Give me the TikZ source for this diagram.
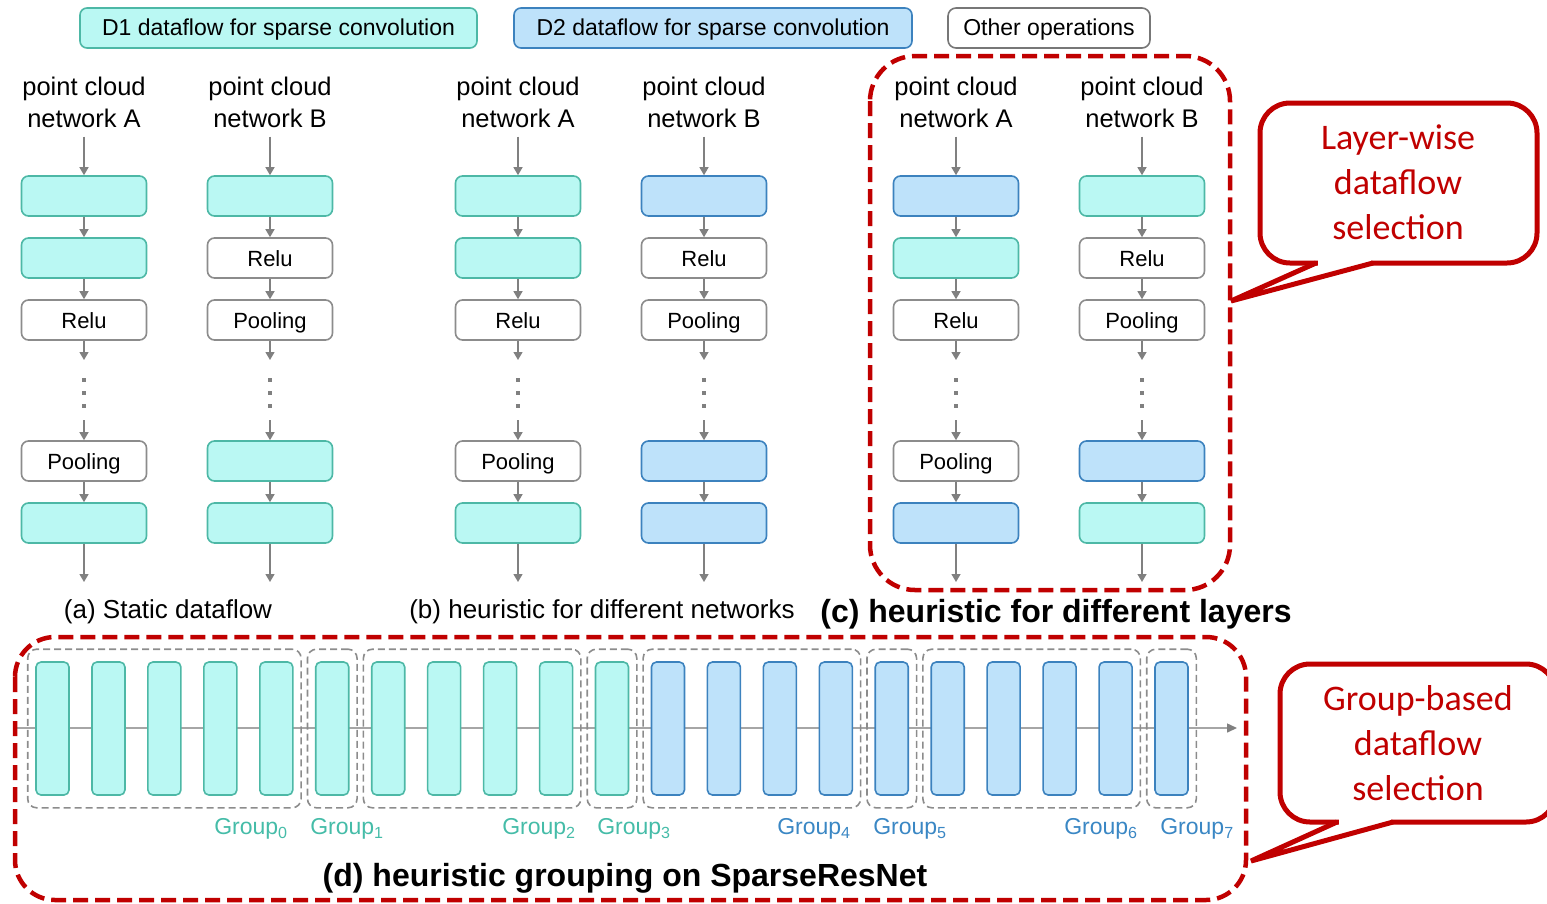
\documentclass[tikz,border=0pt]{standalone}
\usepackage{fontspec}
\setmainfont{Liberation Sans}
\newfontfamily\calfont{Carlito}
\usetikzlibrary{arrows.meta,fit}
\definecolor{cyf}{HTML}{BAF8F3}
\definecolor{cyd}{HTML}{4DB8A6}
\definecolor{blf}{HTML}{BEE2FA}
\definecolor{bld}{HTML}{3C82BE}
\definecolor{opd}{HTML}{8C8C8C}
\definecolor{arrg}{HTML}{808080}
\definecolor{myred}{HTML}{C00000}
\definecolor{cyt}{HTML}{45BCA8}
\definecolor{blt}{HTML}{3A87C4}
\begin{document}
\begin{tikzpicture}[x=1pt,y=-1pt,
  lbox/.style={draw, rounded corners=7pt, minimum width=125pt, minimum height=40pt, inner sep=0pt, line width=1.6pt},
  d1box/.style={lbox, fill=cyf, draw=cyd},
  d2box/.style={lbox, fill=blf, draw=bld},
  opbox/.style={lbox, fill=white, draw=opd, font=\fontsize{22}{26}\selectfont, text height=20pt, text depth=4pt},
  cy/.style={d1box, node contents={}},
  bl/.style={d2box, node contents={}},
  relu/.style={opbox, node contents=Relu},
  pool/.style={opbox, node contents=Pooling},
  legbox/.style={draw, rounded corners=8pt, minimum height=40pt, inner sep=0pt, line width=1.6pt, font=\fontsize{23}{27}\selectfont, text height=20pt, text depth=6pt},
  ttl/.style={align=center, inner sep=0pt, font=\fontsize{25.5}{32}\selectfont},
  arr/.style={draw=arrg, line width=1.3pt, -{Triangle[length=8pt,width=9pt]}},
  dotl/.style={draw=arrg, line width=4pt, dash pattern=on 4pt off 9pt},
  capt/.style={inner sep=0pt, font=\fontsize{26}{30}\selectfont},
  bcapt/.style={inner sep=0pt, font=\bfseries\fontsize{32}{38}\selectfont},
  barbox/.style={draw, rounded corners=5pt, minimum width=33pt, minimum height=133pt, inner sep=0pt, line width=1.6pt},
  cybar/.style={barbox, fill=cyf, draw=cyd},
  blbar/.style={barbox, fill=blf, draw=bld},
  gbox/.style={draw=opd, dash pattern=on 7pt off 4pt, rounded corners=9pt, line width=1.6pt, inner xsep=7.5pt, inner ysep=12pt},
  glab/.style={inner sep=0pt, font=\fontsize{23}{27}\selectfont},
  reddash/.style={draw=myred, line width=4.5pt, dash pattern=on 15pt off 7pt},
  callout/.style={draw=myred, line width=5pt},
  ctext/.style={text=myred, align=center, inner sep=0pt, font=\calfont\fontsize{36}{45}\selectfont}
]
\useasboundingbox (0,0) rectangle (1547,903);

% legend
\node[legbox, d1box, minimum width=397pt] (leg1) at (278.5,28) {D1 dataflow for sparse convolution};
\node[legbox, d2box, minimum width=398pt] (leg2) at (713,28) {D2 dataflow for sparse convolution};
\node[legbox, fill=white, draw=opd!85!black, minimum width=202pt] (leg3) at (1049,28) {Other operations};

% columns
\foreach \p/\x/\n/\a/\b/\c/\d/\e in {
  aA/84/A/cy/cy/relu/pool/cy,
  aB/270/B/cy/relu/pool/cy/cy,
  bA/518/A/cy/cy/relu/pool/cy,
  bB/704/B/bl/relu/pool/bl/bl,
  cA/956/A/bl/cy/relu/pool/bl,
  cB/1142/B/cy/relu/pool/bl/cy}{
  \node[ttl] (\p-t) at (\x,102) {point cloud\\network \n};
  \node[\a, name=\p-1, at={(\x,196)}];
  \node[\b, name=\p-2, at={(\x,258)}];
  \node[\c, name=\p-3, at={(\x,320)}];
  \node[\d, name=\p-4, at={(\x,461)}];
  \node[\e, name=\p-5, at={(\x,523)}];
  \coordinate (\p-u) at (\x,360);
  \coordinate (\p-v) at (\x,420);
  \coordinate (\p-e) at (\x,582);
  \draw[arr] ([yshift=-9pt]\p-t.south) -- (\p-1);
  \draw[arr] (\p-1) -- (\p-2);
  \draw[arr] (\p-2) -- (\p-3);
  \draw[arr] (\p-3) -- (\p-u);
  \draw[dotl] ([yshift=-18pt]\p-u) -- ([yshift=12pt]\p-v);
  \draw[arr] (\p-v) -- (\p-4);
  \draw[arr] (\p-4) -- (\p-5);
  \draw[arr] (\p-5) -- (\p-e);
}

% captions
\node[capt] (capa) at (168,612) {(a) Static dataflow};
\node[capt] (capb) at (602,612) {(b) heuristic for different networks};
\node[bcapt] (capc) at (1056,614) {(c) heuristic for different layers};

% (c) frame and callout
\draw[reddash, rounded corners=45pt] (870,56) rectangle (1230,590);
\draw[callout, fill=white, rounded corners=30pt] (1260,103) rectangle (1537,263);
\fill[white] (1318,258) rectangle (1371,268);
\draw[callout, line join=miter] (1316,263) -- (1231,301) -- (1373,263);
\node[ctext] (ct1) at (1398,182) {Layer-wise\\dataflow\\selection};

% (d) bars
\coordinate (hl-s) at (14,728);
\coordinate (hl-e) at (1237,728);
\draw[draw=arrg!70, line width=1.5pt, -{Triangle[length=10pt,width=9pt,color=arrg]}] (hl-s) -- (hl-e);
\foreach \i in {0,...,20}{
  \pgfmathsetmacro\bx{52.5+55.95*\i}
  \ifnum\i<11 \def\bs{cybar}\else\def\bs{blbar}\fi
  \node[\bs] (bar\i) at (\bx,728.5) {};
}
\node[gbox, fit=(bar0)(bar4)] (g0) {};
\node[gbox, fit=(bar5)] (g1) {};
\node[gbox, fit=(bar6)(bar9)] (g2) {};
\node[gbox, fit=(bar10)] (g3) {};
\node[gbox, fit=(bar11)(bar14)] (g4) {};
\node[gbox, fit=(bar15)] (g5) {};
\node[gbox, fit=(bar16)(bar19)] (g6) {};
\node[gbox, fit=(bar20)] (g7) {};
\node[glab, text=cyt] (gl0) at (251,829) {Group\textsubscript{0}};
\node[glab, text=cyt] (gl1) at (347,829) {Group\textsubscript{1}};
\node[glab, text=cyt] (gl2) at (539,829) {Group\textsubscript{2}};
\node[glab, text=cyt] (gl3) at (634,829) {Group\textsubscript{3}};
\node[glab, text=blt] (gl4) at (814,829) {Group\textsubscript{4}};
\node[glab, text=blt] (gl5) at (910,829) {Group\textsubscript{5}};
\node[glab, text=blt] (gl6) at (1101,829) {Group\textsubscript{6}};
\node[glab, text=blt] (gl7) at (1197,829) {Group\textsubscript{7}};
\node[bcapt] (capd) at (625,878) {(d) heuristic grouping on SparseResNet};

% (d) frame and callout
\draw[reddash, rounded corners=40pt] (15,637) rectangle (1246,900);
\draw[callout, fill=white, rounded corners=30pt] (1280,664) rectangle (1556,822);
\fill[white] (1339,817) rectangle (1391,827);
\draw[callout, line join=miter] (1337,822) -- (1251,861) -- (1393,822);
\node[ctext] (ct2) at (1418,743) {Group-based\\dataflow\\selection};
\end{tikzpicture}
\end{document}
